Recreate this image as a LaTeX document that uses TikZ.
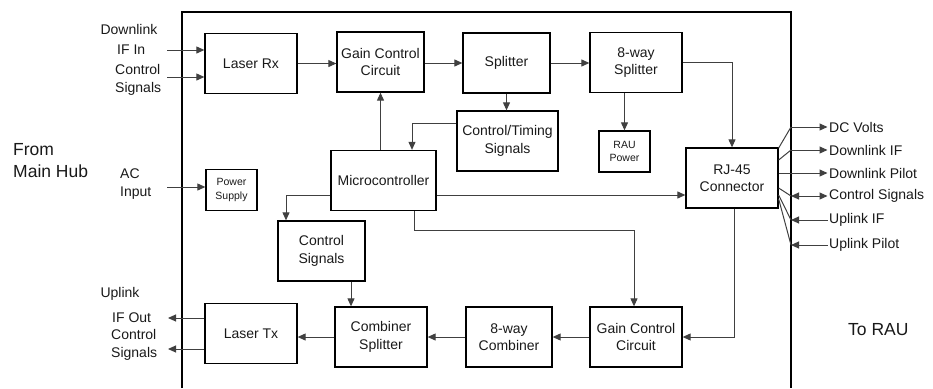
\documentclass[tikz,border=0pt]{standalone}
\usepackage{fontspec}
\setmainfont{Liberation Sans}
\usetikzlibrary{arrows.meta}
\tikzset{
	block/.style = {
		draw,
		line width     = 1.3pt,
		minimum width  = 92pt,
		minimum height = 60pt,
		inner sep      = 0pt,
		align          = center,
		text           = black!90,
		font           = \fontsize{14}{17.5}\selectfont
	},
	smallblock/.style = {block, minimum width = 51pt, minimum height = 41pt,
		font = \fontsize{10.5}{13.5}\selectfont},
	sig/.style     = {inner sep = 0pt, align = left, text = black!90,
		font = \fontsize{14}{18}\selectfont},
	side/.style    = {sig, font = \fontsize{17.5}{22}\selectfont},
	wire/.style    = {draw = black!75, line width = 1pt},
	casing/.style  = {line width = 1.8pt}
}

\begin{document}
\begin{tikzpicture}[x = 1pt, y = -1pt, >={Triangle[length=8pt,width=7pt]}]
	\useasboundingbox (0,0) rectangle (933,388);
	% housing
	\draw[casing] (182,388) -- (182,12) -- (791,12) -- (791,388);
	% blocks
	\node (laserrx) [block] at (251,63.5) {Laser Rx};
	\node (gainup) [block, minimum width = 87pt] at (380.5,62) {Gain Control\\Circuit};
	\node (splitter) [block, minimum width = 87pt] at (506.5,63) {Splitter};
	\node (eightsplit) [block] at (636,62.5) {8-way\\Splitter};
	\node (timing) [block, minimum width = 101pt] at (507.5,141) {Control/Timing\\Signals};
	\node (raupower) [smallblock] at (624.5,151.5) {RAU\\Power};
	\node (rj) [block] at (732,178) {RJ-45\\Connector};
	\node (micro) [block, minimum width = 105pt] at (383.5,180.5) {Microcontroller};
	\node (power) [smallblock] at (231.5,190) {Power\\Supply};
	\node (ctrlsig) [block, minimum width = 87pt] at (321.5,251) {Control\\Signals};
	\node (gaindown) [block] at (636,337) {Gain Control\\Circuit};
	\node (combiner) [block, minimum width = 86pt] at (509,337) {8-way\\Combiner};
	\node (combsplit) [block] at (381,337) {Combiner\\Splitter};
	\node (lasertx) [block] at (251,333.5) {Laser Tx};
	% side texts
	\node (hub) [side, anchor = west] at (13,161) {From\\Main Hub};
	\node (rau) [side, anchor = west] at (848,330) {To RAU};
	% inputs from the main hub
	\node (dlink) [sig] at (129,29) {Downlink};
	\node (ifin) [sig, anchor = west] at (117,50) {IF In};
	\node (ctrlin) [sig, anchor = west] at (115,80) {Control\\Signals};
	\node (acin) [sig, anchor = west] at (120,184) {AC\\Input};
	\coordinate (ifinend) at (167,50);
	\coordinate (ctrlinend) at (167,77);
	\coordinate (acinend) at (167,187);
	\draw[wire, ->] (ifinend) -- (ifinend -| laserrx.west);
	\draw[wire, ->] (ctrlinend) -- (ctrlinend -| laserrx.west);
	\draw[wire, ->] (acinend) -- (acinend -| power.west);
	% outputs to the main hub
	\node (ulink) [sig] at (120,294) {Uplink};
	\node (ifout) [sig, anchor = west] at (112,318) {IF Out};
	\node (ctrlout) [sig, anchor = west] at (111,345) {Control\\Signals};
	\coordinate (ifoutend) at (168,318);
	\coordinate (ctrloutend) at (168,349);
	\draw[wire, ->] (ifoutend -| lasertx.west) -- (ifoutend);
	\draw[wire, ->] (ctrloutend -| lasertx.west) -- (ctrloutend);
	% downlink path
	\draw[wire, ->] (laserrx.east) -- (laserrx.east -| gainup.west);
	\draw[wire, ->] (gainup.east |- splitter.west) -- (splitter.west);
	\draw[wire, ->] (splitter.east) -- (splitter.east -| eightsplit.west);
	\draw[wire, ->] (splitter.south) -- (splitter.south |- timing.north);
	\draw[wire, ->] (eightsplit.south -| raupower.north) -- (raupower.north);
	\draw[wire, ->] (eightsplit.east) -| (rj.north);
	% control lines
	\draw[wire, ->] (micro.north -| gainup.south) -- (gainup.south);
	\draw[wire, ->] ([yshift=18pt]timing.west) -| ([xshift=28.5pt]micro.north);
	\draw[wire, ->] ([yshift=-14.5pt]micro.west) -| ([xshift=-35.5pt]ctrlsig.north);
	\draw[wire, ->] ([yshift=-14.5pt]micro.east) -- ([yshift=-14.5pt]micro.east -| rj.west);
	\draw[wire, ->] ([xshift=30.5pt]micro.south) -- ++(0,19) -| ([xshift=-2pt]gaindown.north);
	\draw[wire, ->] ([xshift=29.5pt]ctrlsig.south) -- ([xshift=29.5pt]ctrlsig.south |- combsplit.north);
	% uplink path
	\draw[wire, ->] ([xshift=2pt]rj.south) |- (gaindown.east);
	\draw[wire, ->] (gaindown.west) -- (gaindown.west -| combiner.east);
	\draw[wire, ->] (combiner.west) -- (combiner.west -| combsplit.east);
	\draw[wire, ->] (combsplit.west) -- (combsplit.west -| lasertx.east);
	% lines to the RAU
	\foreach \txt/\off/\y/\tip [count=\i] in {DC Volts/30/127/->, Downlink IF/18/150/->,
		Downlink Pilot/5/173/->, Control Signals/-10/196/<->,
		Uplink IF/-17/220/<-, Uplink Pilot/-21/245/<-} {
		\coordinate (f\i) at (791,\y);
		\node (out\i) [sig, anchor = west] at (829,\y) {\txt};
		\draw[wire] ([yshift=\off pt]rj.east) -- (f\i);
		\draw[wire, \tip] (f\i) -- ([xshift=-1.5pt]out\i.west);
	}
\end{tikzpicture}
\end{document}
